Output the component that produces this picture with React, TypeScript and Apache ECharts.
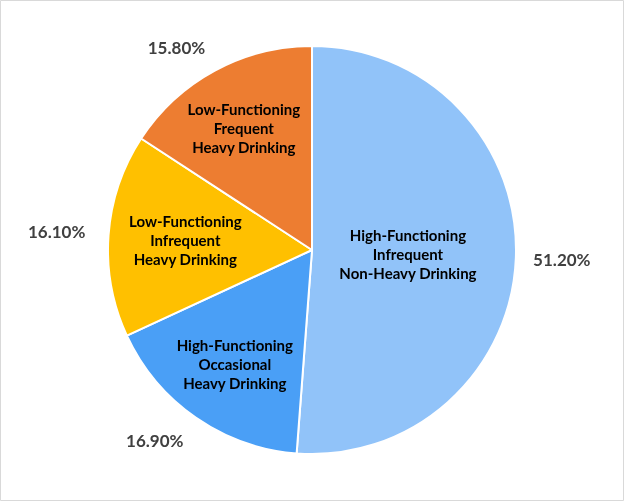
import React, { useEffect, useRef } from "react";
import * as echarts from "echarts";

const categories = [
  "High-Functioning\nInfrequent\nNon-Heavy Drinking",
  "High-Functioning\nOccasional\nHeavy Drinking",
  "Low-Functioning\nInfrequent\nHeavy Drinking",
  "Low-Functioning\nFrequent\nHeavy Drinking",
];
const values = [51.2, 16.9, 16.1, 15.8];
const colors = ["#91C3F9", "#4A9FF6", "#FFC000", "#ED7D31"];
// label placement (style only): horizontal nudges and outer label distances
const innerNudgeX = [-2, 2, 12, -2];
const outerNudgeX = [0, -25, 0, -26];
const outerDist = [247, 229, 253, 227];

const padX = (dx: number) => [0, Math.max(0, -2 * dx), 0, Math.max(0, 2 * dx)];

export default function App() {
  const ref = useRef<HTMLDivElement>(null);
  useEffect(() => {
    if (!ref.current) return;
    const chart = echarts.init(ref.current, undefined, { renderer: "svg" });
    const center = [312, 250];
    const base = {
      type: "pie",
      center,
      startAngle: 90,
      clockwise: true,
      animation: false,
      labelLine: { show: false },
    };
    const overlay = (
      radius: number[],
      showIdx: (i: number) => boolean,
      label: any,
      nudge: number[]
    ) => ({
      ...base,
      silent: true,
      radius,
      z: 5,
      itemStyle: { color: "rgba(0,0,0,0)", borderWidth: 0 },
      emphasis: { disabled: true },
      data: values.map((v, i) => ({
        name: categories[i],
        value: v,
        label: {
          show: showIdx(i),
          position: "inside",
          padding: padX(nudge[i]),
          ...label,
        },
      })),
    });
    const innerLabel = {
      formatter: "{b}",
      color: "#000000",
      fontFamily: "Lato",
      fontWeight: "bold",
      fontSize: 15,
      lineHeight: 19,
      align: "center",
    };
    const outerLabel = {
      formatter: (p: any) => p.value.toFixed(2) + "%",
      color: "#404040",
      fontFamily: "Lato",
      fontWeight: "bold",
      fontSize: 17,
      align: "center",
    };
    chart.setOption({
      animation: false,
      graphic: [
        {
          type: "rect",
          shape: { x: 0.5, y: 0.5, width: 623, height: 500 },
          style: { fill: "#ffffff", stroke: "#D9D9D9", lineWidth: 1 },
          z: -10,
        },
      ],
      series: [
        {
          ...base,
          radius: [0, 204],
          itemStyle: { borderColor: "#ffffff", borderWidth: 2 },
          label: { show: false },
          emphasis: { disabled: true },
          data: values.map((v, i) => ({
            name: categories[i],
            value: v,
            itemStyle: { color: colors[i] },
          })),
        },
        overlay([0, 190], (i) => i === 0, innerLabel, innerNudgeX),
        overlay([0, 272], (i) => i !== 0, innerLabel, innerNudgeX),
        ...values.map((_, k) =>
          overlay(
            [outerDist[k] - 5, outerDist[k] + 5],
            (i) => i === k,
            outerLabel,
            outerNudgeX
          )
        ),
      ],
    });
    return () => chart.dispose();
  }, []);
  return (
    <div
      ref={ref}
      style={{ position: "fixed", left: 0, top: 0, width: 624, height: 501 }}
    />
  );
}
